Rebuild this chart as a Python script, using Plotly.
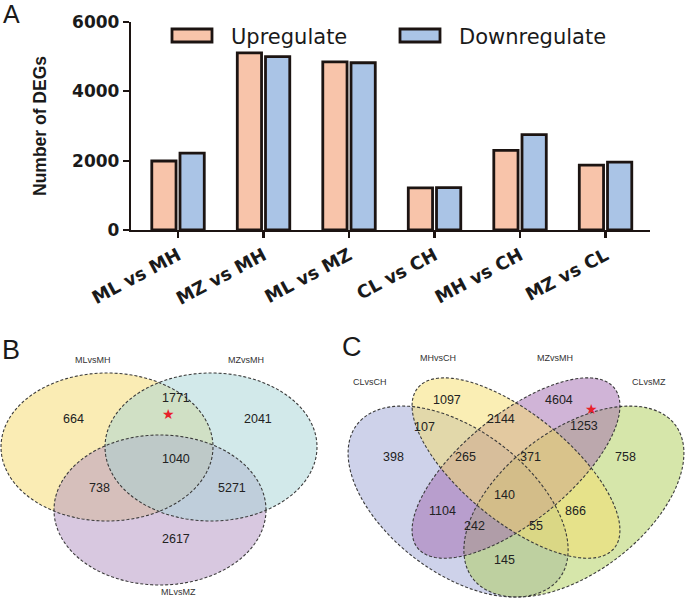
import numpy as np
import plotly.graph_objects as go

W, H = 685, 605

# ---------------- data ----------------
categories = ["ML vs MH", "MZ vs MH", "ML vs MZ", "CL vs CH", "MH vs CH", "MZ vs CL"]
upregulate = [1990, 5110, 4850, 1215, 2295, 1870]
downregulate = [2220, 5000, 4825, 1225, 2750, 1960]
y_tick_values = [0, 2000, 4000, 6000]
series_names = ["Upregulate", "Downregulate"]

venn3_set_names = ["MLvsMH", "MZvsMH", "MLvsMZ"]
venn3_region_keys = ["1", "2", "3", "12", "13", "23", "123"]
venn3_region_counts = [664, 2041, 2617, 1771, 738, 5271, 1040]
venn3_starred = "12"

venn4_set_names = ["CLvsCH", "MHvsCH", "MZvsMH", "CLvsMZ"]
venn4_region_keys = ["1", "2", "3", "4", "12", "23", "34", "123", "234", "1234",
                     "13", "24", "134", "124", "14"]
venn4_region_counts = [398, 1097, 4604, 758, 107, 2144, 1253, 265, 371, 140,
                       1104, 866, 242, 55, 145]
venn4_starred = "34"

# ---------------- styling / layout constants ----------------
UP_COLOR = "#F8C4AA"
DOWN_COLOR = "#AAC4E6"
EDGE = "#1c1412"
BOLD = "DejaVu Sans"
ARIAL = "Liberation Sans, Arial, sans-serif"


def px(x):
    return x / W


def py(y):
    return 1 - y / H


fig = go.Figure()
for name, vals, col in [(series_names[0], upregulate, UP_COLOR),
                        (series_names[1], downregulate, DOWN_COLOR)]:
    fig.add_trace(go.Bar(x=categories, y=vals, name=name, marker=dict(
        color=col, line=dict(color=EDGE, width=2.8)), showlegend=False, hoverinfo="skip"))

shapes = []
annotations = []

# manual legend
for (x0, x1), name, col in [((172, 212), series_names[0], UP_COLOR),
                            ((400, 440), series_names[1], DOWN_COLOR)]:
    shapes.append(dict(type="rect", xref="paper", yref="paper",
                       x0=px(x0), x1=px(x1), y0=py(42), y1=py(29),
                       fillcolor=col, line=dict(color=EDGE, width=2.8)))
    annotations.append(dict(text=name, x=px(x1 + 17), y=py(37), xref="paper", yref="paper",
                            xanchor="left", yanchor="middle", showarrow=False,
                            font=dict(family=BOLD, size=21, color="#1a1a1a")))

# y-axis title
annotations.append(dict(text="Number of DEGs", x=px(40), y=py(126), xref="paper", yref="paper",
                        textangle=-90, showarrow=False, xanchor="center", yanchor="middle",
                        font=dict(family=ARIAL, size=17.5, color="#1a1a1a", weight="bold")))

# panel letters
for letter, (lx, ly, fs) in zip("ABC", [(11, 14, 25), (11, 350, 27), (352, 347, 27)]):
    annotations.append(dict(text=letter, x=px(lx), y=py(ly), xref="paper", yref="paper",
                            showarrow=False, xanchor="center", yanchor="middle",
                            font=dict(family=ARIAL, size=fs, color="#1a1a1a")))


def ellipse_path(cx, cy, rx, ry, rot_deg, xmap, ymap, n=160):
    t = np.linspace(0, 2 * np.pi, n, endpoint=False)
    th = np.radians(rot_deg)
    u = cx + rx * np.cos(t) * np.cos(th) - ry * np.sin(t) * np.sin(th)
    v = cy + rx * np.cos(t) * np.sin(th) + ry * np.sin(t) * np.cos(th)
    pts = [f"{px(xmap(a)):.5f},{py(ymap(b)):.5f}" for a, b in zip(u, v)]
    return "M " + " L ".join(pts) + " Z"


def add_venn(ellipses, fills, xmap, ymap):
    paths = [ellipse_path(*e, xmap, ymap) for e in ellipses]
    for p, f in zip(paths, fills):
        shapes.append(dict(type="path", path=p, xref="paper", yref="paper",
                           fillcolor=f, line=dict(width=0), layer="below"))
    for p in paths:
        shapes.append(dict(type="path", path=p, xref="paper", yref="paper",
                           fillcolor="rgba(0,0,0,0)",
                           line=dict(color="#3a3a3a", width=1.1, dash="3px,2px"), layer="below"))


# ---- Venn B (3 sets), pixel geometry ----
ident = lambda v: v
b_ellipses = [(107, 447, 106, 74, 0),   # MLvsMH
              (160, 510, 106, 75, 0),   # MLvsMZ
              (211, 447, 106, 74, 0)]   # MZvsMH
b_fills = ["rgba(245,217,105,0.5)", "rgba(177,145,193,0.5)", "rgba(165,212,214,0.5)"]
add_venn(b_ellipses, b_fills, ident, ident)

b_label_pos = [(73, 360), (246, 360), (159, 599)]
b_region_pos = {"1": (61, 428), "2": (258, 428), "3": (160, 548), "12": (160, 407),
                "13": (87, 497), "23": (232, 497), "123": (160, 468)}
b_star_pos = (160, 424)

# ---- Venn C (4 sets), unit geometry mapped to pixels ----
cx_map = lambda u: 323 + 386 * u
cy_map = lambda v: 659 - 335 * v
c_ellipses = [(0.35, 0.47, 0.35, 0.20, 135),   # CLvsCH
              (0.65, 0.47, 0.35, 0.20, 45),    # CLvsMZ
              (0.50, 0.57, 0.35, 0.15, 45),    # MZvsMH
              (0.50, 0.57, 0.35, 0.15, 135)]   # MHvsCH
c_fills = ["rgba(157,165,213,0.5)", "rgba(173,205,85,0.5)",
           "rgba(161,105,175,0.5)", "rgba(245,221,105,0.5)"]
add_venn(c_ellipses, c_fills, cx_map, cy_map)

c_label_pos = [(370, 382), (458, 358), (575, 358), (668, 382)]
c_region_pos = {"1": (393, 466), "2": (463, 400), "3": (575, 400), "4": (638, 466),
                "12": (424, 436), "23": (517, 428), "34": (600, 435), "123": (478, 466),
                "234": (543, 466), "1234": (517, 504), "13": (442, 520), "24": (588, 520),
                "134": (487, 535), "124": (545, 535), "14": (517, 569)}
c_star_pos = (600, 419)


def venn_text(names, name_pos, keys, counts, region_pos, star_key, star_pos):
    for n, (x, y) in zip(names, name_pos):
        annotations.append(dict(text=n, x=px(x), y=py(y), xref="paper", yref="paper",
                                showarrow=False, font=dict(family=ARIAL, size=9, color="#333")))
    for k, c in zip(keys, counts):
        x, y = region_pos[k]
        annotations.append(dict(text=str(c), x=px(x), y=py(y), xref="paper", yref="paper",
                                showarrow=False, font=dict(family=ARIAL, size=12.5, color="#222")))
    annotations.append(dict(text="★", x=px(star_pos[0]), y=py(star_pos[1]), xref="paper", yref="paper",
                            showarrow=False, font=dict(family="DejaVu Sans", size=14, color="#e8202a")))


venn_text(venn3_set_names, b_label_pos, venn3_region_keys, venn3_region_counts,
          b_region_pos, venn3_starred, b_star_pos)
venn_text(venn4_set_names, c_label_pos, venn4_region_keys, venn4_region_counts,
          c_region_pos, venn4_starred, c_star_pos)

fig.update_layout(
    width=W, height=H, margin=dict(l=0, r=0, t=0, b=0, autoexpand=False),
    paper_bgcolor="white", plot_bgcolor="white",
    barmode="group", bargap=0.34, bargroupgap=0.14,
    showlegend=False, hovermode=False,
    xaxis=dict(domain=[px(131), px(650)], range=[-0.55, 5.52], showgrid=False, zeroline=False,
               automargin=False, fixedrange=True,
               showline=True, linecolor=EDGE, linewidth=2.2, ticks="outside", ticklen=6,
               tickwidth=2.2, tickcolor=EDGE, tickangle=-28,
               tickfont=dict(family=BOLD, size=18, color="#1a1a1a", weight="bold")),
    yaxis=dict(domain=[py(230), py(22)], range=[0, 6000], tickvals=y_tick_values,
               automargin=False, fixedrange=True,
               showgrid=False, zeroline=False, showline=True, linecolor=EDGE, linewidth=2.2,
               ticks="outside", ticklen=6, tickwidth=2.2, tickcolor=EDGE,
               tickfont=dict(family=BOLD, size=17, color="#1a1a1a", weight="bold")),
    shapes=shapes, annotations=annotations,
)

fig.write_html("out.html", config={"displayModeBar": False, "staticPlot": True},
               post_script="document.body.style.margin='0px';document.body.style.overflow='hidden';")
